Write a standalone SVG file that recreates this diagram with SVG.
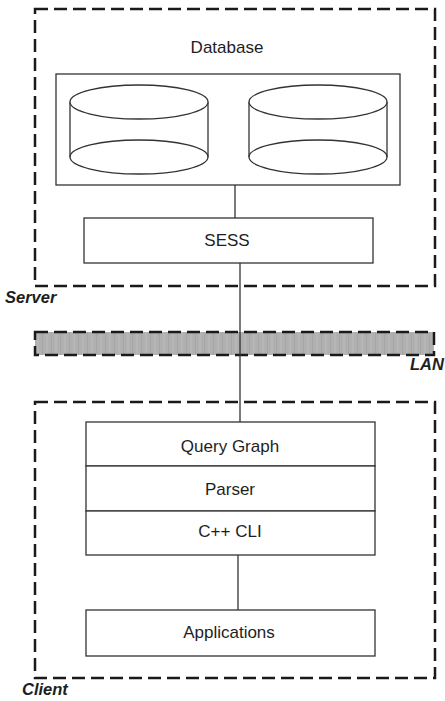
<svg xmlns="http://www.w3.org/2000/svg" width="445" height="701" viewBox="0 0 445 701">
<style>
.bg{fill:#ffffff}
.dash{fill:none;stroke:#1a1a1a;stroke-width:2.5;stroke-dasharray:13 6}
.box{fill:#ffffff;stroke:#333333;stroke-width:1.3}
.cyl{fill:#ffffff;stroke:#333333;stroke-width:1.3}
.line{fill:none;stroke:#333333;stroke-width:1.3}
.lbl{font-family:"Liberation Sans",Arial,sans-serif;font-size:17px;fill:#1e1e1e;text-anchor:middle}
.grp{font-family:"Liberation Sans",Arial,sans-serif;font-size:16.5px;font-weight:bold;font-style:italic;fill:#1e1e1e}
</style>
<defs>
<pattern id="lanTex" width="9" height="23" patternUnits="userSpaceOnUse">
<rect width="9" height="23" fill="#b0b0b0"/>
<line x1="2" y1="0" x2="2" y2="23" stroke="#bdbdbd" stroke-width="1"/>
<line x1="6.5" y1="0" x2="6.5" y2="23" stroke="#a2a2a2" stroke-width="0.8"/>
</pattern>
</defs>
<rect class="bg" x="0" y="0" width="445" height="701"/>

<g id="server">
<rect class="dash" x="35" y="9" width="400" height="277"/>
<text class="grp" x="5" y="303">Server</text>
</g>

<g id="lan">
<rect x="35" y="332" width="399" height="23" fill="url(#lanTex)" stroke="#1a1a1a" stroke-width="2.5" stroke-dasharray="13 6"/>
<text class="grp" x="410" y="370">LAN</text>
</g>

<g id="client">
<rect class="dash" x="35" y="402" width="400" height="276"/>
<text class="grp" x="22" y="695">Client</text>
</g>

<g id="connectors">
<line class="line" x1="235" y1="185" x2="235" y2="218"/>
<line class="line" x1="240" y1="263" x2="240" y2="422"/>
<line class="line" x1="238" y1="555" x2="238" y2="610"/>
</g>

<g id="database">
<text class="lbl" x="227" y="53">Database</text>
<rect class="box" x="56" y="74" width="344" height="111"/>
<g id="disk1">
<ellipse class="cyl" cx="139" cy="157" rx="69" ry="17"/>
<line class="line" x1="70" y1="102" x2="70" y2="157"/>
<line class="line" x1="208" y1="102" x2="208" y2="157"/>
<ellipse class="cyl" cx="139" cy="102" rx="69" ry="17"/>
</g>
<g id="disk2">
<ellipse class="cyl" cx="318" cy="157" rx="69" ry="17"/>
<line class="line" x1="249" y1="102" x2="249" y2="157"/>
<line class="line" x1="387" y1="102" x2="387" y2="157"/>
<ellipse class="cyl" cx="318" cy="102" rx="69" ry="17"/>
</g>
</g>

<g id="sess">
<rect class="box" x="84" y="218" width="289" height="45"/>
<text class="lbl" x="227" y="246">SESS</text>
</g>

<g id="querygraph">
<rect class="box" x="86" y="422" width="289" height="44"/>
<text class="lbl" x="230" y="452">Query Graph</text>
</g>

<g id="parser">
<rect class="box" x="86" y="466" width="289" height="45"/>
<text class="lbl" x="230" y="495">Parser</text>
</g>

<g id="cppcli">
<rect class="box" x="86" y="511" width="289" height="44"/>
<text class="lbl" x="230" y="537">C++ CLI</text>
</g>

<g id="applications">
<rect class="box" x="86" y="610" width="289" height="46"/>
<text class="lbl" x="229" y="638">Applications</text>
</g>
</svg>
